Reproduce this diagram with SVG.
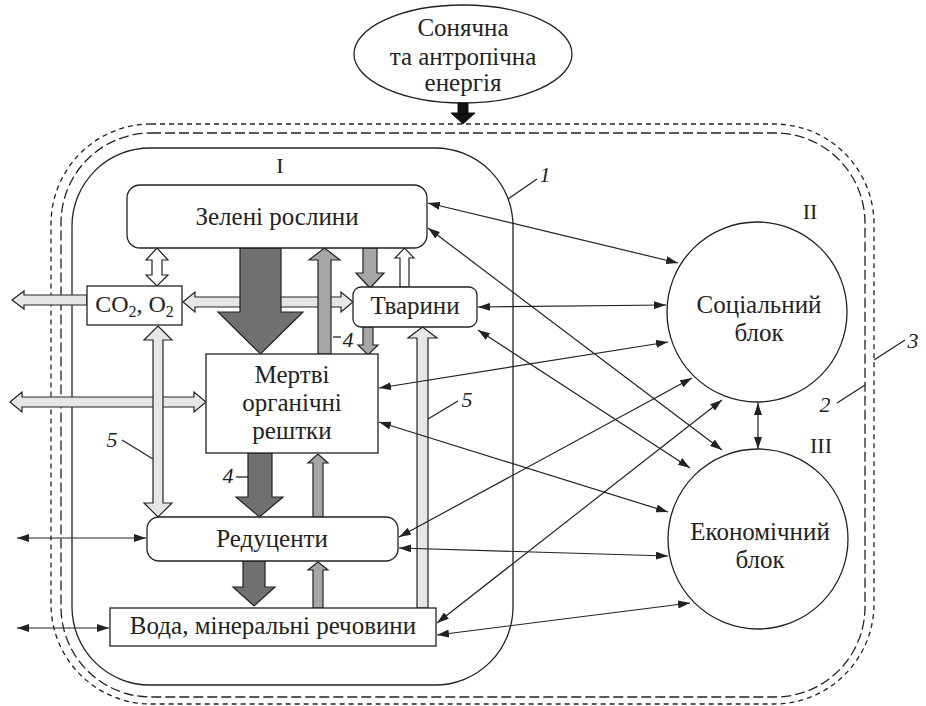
<svg xmlns="http://www.w3.org/2000/svg" width="926" height="706" viewBox="0 0 926 706">
<style>
text{font-family:"Liberation Serif","Liberation Sans",sans-serif;fill:#222;}
.t{font-size:25px;text-anchor:middle;}
.n{font-size:22px;font-style:italic;text-anchor:middle;}
.r{font-size:22px;text-anchor:middle;}
.box{fill:#fff;stroke:#222;stroke-width:1.3;}
.ln{fill:none;stroke:#222;stroke-width:1.3;}
.th{fill:none;stroke:#222;stroke-width:1.2;marker-start:url(#ah);marker-end:url(#ah);}
.dk{fill:#707070;stroke:#222;stroke-width:1.2;}
.md{fill:#a6a6a6;stroke:#222;stroke-width:1.2;}
.lt{fill:#e6e6e6;stroke:#222;stroke-width:1.2;}
.wh{fill:#fff;stroke:#222;stroke-width:1.2;}
</style>
<defs>
<marker id="ah" markerUnits="userSpaceOnUse" markerWidth="13" markerHeight="8" refX="12" refY="4" orient="auto-start-reverse">
<path d="M0,0 L12,4 L0,8 z" fill="#222"/>
</marker>
</defs>
<g id="boundaries">
<rect x="51" y="124" width="823" height="580" rx="100" ry="100" class="ln" stroke-dasharray="5 4"/>
<rect x="61" y="133" width="804" height="564" rx="90" ry="90" class="ln" stroke-dasharray="10 4"/>
<rect x="72" y="148" width="441" height="537" rx="78" ry="78" class="ln"/>
<text class="r" x="280" y="173">I</text>
<text class="r" x="810" y="219">II</text>
<text class="r" x="821" y="453">III</text>
<line x1="537" y1="179" x2="508" y2="199" class="ln" stroke-width="1"/>
<text class="n" x="545" y="182">1</text>
<line x1="837" y1="403" x2="865" y2="385" class="ln" stroke-width="1"/>
<text class="n" x="825" y="412">2</text>
<line x1="905" y1="340" x2="874" y2="360" class="ln" stroke-width="1"/>
<text class="n" x="913" y="348">3</text>
</g>
<g id="energy">
<ellipse cx="463" cy="54" rx="109" ry="49" class="box"/>
<text class="t" x="463" y="36">Сонячна</text>
<text class="t" x="463" y="65">та антропічна</text>
<text class="t" x="463" y="91">енергія</text>
<polygon points="458,103 468,103 468,113 475,113 463,124 451,113 458,113" fill="#111" stroke="#111" stroke-width="1"/>
</g>
<g id="flows">
<polygon class="lt" points="87,295 24,295 24,291 12,300 24,309 24,305 87,305"/>
<polygon class="lt" points="183,302 195,292 195,297 341,297 341,292 353,302 341,312 341,307 195,307 195,312"/>
<polygon class="lt" points="10,402 22,392 22,397 194,397 194,392 206,402 194,412 194,407 22,407 22,412"/>
<polygon class="wh" points="157,248 168,260 162,260 162,275 168,275 157,286 146,275 152,275 152,260 146,260"/>
<polygon class="lt" points="158,326 172,340 163,340 163,503 172,503 158,517 144,503 153,503 153,340 144,340"/>
<polygon class="dk" points="240,248 281,248 281,312 303,312 260.5,354 218,312 240,312"/>
<polygon class="md" points="318,354 331,354 331,260 340,260 324.5,248 309,260 318,260"/>
<polygon class="md" points="363,248 377,248 377,273 384,273 370,288 356,273 363,273"/>
<polygon class="wh" points="400,287 409,287 409,258 414,258 404.5,248 395,258 400,258"/>
<polygon class="md" points="363,327 373,327 373,345 378,345 368,355 358,345 363,345"/>
<polygon class="dk" points="248,453 272,453 272,497 283,497 259.5,517 236,497 248,497"/>
<polygon class="md" points="313,517 323,517 323,463 328,463 318,454 308,463 313,463"/>
<polygon class="dk" points="243,561 265,561 265,587 275,587 254,606 233,587 243,587"/>
<polygon class="md" points="313,608 323,608 323,570 328,570 318,562 308,570 313,570"/>
<polygon class="lt" points="417,608 428,608 428,338 437,338 422.5,327 408,338 417,338"/>
<line x1="333" y1="337" x2="341" y2="337" class="ln" stroke-width="1"/>
<text class="n" x="348" y="347">4</text>
<line x1="236" y1="477" x2="248" y2="477" class="ln" stroke-width="1"/>
<text class="n" x="228" y="483">4</text>
<line x1="122" y1="440" x2="153" y2="459" class="ln" stroke-width="1"/>
<text class="n" x="112" y="447">5</text>
<line x1="458" y1="401" x2="428" y2="419" class="ln" stroke-width="1"/>
<text class="n" x="467" y="407">5</text>
</g>
<g id="green-plants">
<rect x="127" y="185" width="300" height="63" rx="13" ry="13" class="box"/>
<text class="t" x="277" y="225">Зелені рослини</text>
</g>
<g id="co2">
<rect x="87" y="286" width="95" height="39" class="box"/>
<text x="134.5" y="312" style="font-size:24px;text-anchor:middle">CO<tspan font-size="16" dy="5">2</tspan><tspan dy="-5">, O</tspan><tspan font-size="16" dy="5">2</tspan></text>
</g>
<g id="tvaryny">
<rect x="353" y="287" width="124" height="40" rx="8" ry="8" class="box"/>
<text class="t" x="415" y="314">Тварини</text>
</g>
<g id="dead-organic">
<rect x="206" y="354" width="172" height="99" class="box"/>
<text class="t" x="292" y="383">Мертві</text>
<text class="t" x="292" y="411">органічні</text>
<text class="t" x="292" y="439">рештки</text>
</g>
<g id="reducents">
<rect x="147" y="517" width="251" height="44" rx="12" ry="12" class="box"/>
<text class="t" x="272" y="547">Редуценти</text>
</g>
<g id="water">
<rect x="110" y="608" width="326" height="38" class="box"/>
<text class="t" x="273" y="634">Вода, мінеральні речовини</text>
</g>
<g id="social">
<circle cx="757" cy="312" r="90" class="box"/>
<text class="t" x="759" y="313">Соціальний</text>
<text class="t" x="759" y="341">блок</text>
</g>
<g id="economic">
<circle cx="758" cy="539" r="90" class="box"/>
<text class="t" x="760" y="540">Економічний</text>
<text class="t" x="760" y="568">блок</text>
</g>
<g id="connectors">
<line class="th" x1="428" y1="203" x2="678" y2="263"/>
<line class="th" x1="428" y1="228" x2="722" y2="450"/>
<line class="th" x1="478" y1="307" x2="666" y2="305"/>
<line class="th" x1="478" y1="330" x2="690" y2="468"/>
<line class="th" x1="379" y1="388" x2="668" y2="342"/>
<line class="th" x1="379" y1="422" x2="668" y2="512"/>
<line class="th" x1="399" y1="537" x2="692" y2="378"/>
<line class="th" x1="399" y1="548" x2="668" y2="556"/>
<line class="th" x1="437" y1="623" x2="722" y2="400"/>
<line class="th" x1="437" y1="635" x2="690" y2="603"/>
<line class="th" x1="758" y1="403" x2="758" y2="449"/>
<line class="th" x1="17" y1="538" x2="146" y2="538"/>
<line class="th" x1="17" y1="628" x2="109" y2="628"/>
</g>
</svg>
